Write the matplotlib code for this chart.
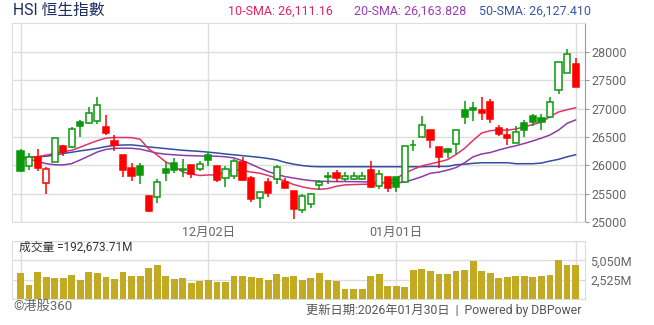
#!/usr/bin/env python3
"""
HSI candlestick chart with SMA lines and volume
"""

import matplotlib
matplotlib.use("Agg")
import matplotlib.pyplot as plt
import numpy as np

W, H = 654, 325

# daily candles, oldest first
opens = [26259, 25986, 26152, 25684, 26057, 26348, 26324, 26757, 26751, 26787,
         26668, 26437, 26176, 25956, 25992, 25458, 25434, 25939, 26045, 25925,
         26010, 25933, 26188, 25980, 25784, 25820, 26057, 25779, 25417, 25702,
         25755, 25702, 25547, 25215, 25316, 25654, 25790, 25861, 25767, 25767,
         25767, 25921, 25636, 25797, 25797, 25701, 26366, 26502, 26615, 26315,
         26280, 26380, 26967, 27002, 26984, 27108, 26650, 26538, 26397, 26750,
         26861, 26838, 26855, 27331, 27624, 27795]
highs = [26290, 26217, 26294, 25974, 26490, 26366, 26668, 26792, 27024, 27196,
         26881, 26543, 26188, 26045, 26045, 25476, 25755, 26057, 26128, 26116,
         26010, 26081, 26229, 25992, 25992, 26116, 26152, 25820, 25523, 25784,
         26010, 25773, 25547, 25500, 25512, 25737, 25880, 25921, 25880, 25880,
         25880, 26081, 25921, 25797, 25797, 26348, 26454, 26864, 26615, 26315,
         26303, 26615, 27143, 27108, 27213, 27178, 26714, 26650, 26697, 26803,
         26908, 26908, 27196, 27824, 28059, 27900]
lows = [25880, 25909, 25891, 25488, 26050, 26158, 26306, 26496, 26733, 26733,
        26532, 26247, 25802, 25731, 25678, 25180, 25340, 25731, 25861, 25802,
        25784, 25891, 25992, 25713, 25624, 25755, 25725, 25358, 25239, 25446,
        25678, 25595, 25061, 25150, 25239, 25571, 25665, 25702, 25725, 25743,
        25743, 25595, 25583, 25535, 25535, 25701, 26247, 26502, 26300, 25957,
        26122, 26192, 26726, 26779, 26797, 26744, 26515, 26356, 26397, 26497,
        26697, 26620, 26838, 27254, 27624, 27378]
closes = [25891, 26152, 25944, 25933, 26484, 26229, 26644, 26692, 26929, 27071,
          26567, 26360, 25909, 25820, 25828, 25197, 25702, 25873, 25909, 25935,
          25844, 26022, 26087, 25743, 25933, 26081, 25743, 25411, 25523, 25515,
          25962, 25607, 25221, 25452, 25488, 25702, 25814, 25773, 25808, 25810,
          25814, 25624, 25844, 25607, 25615, 26348, 26350, 26715, 26443, 26145,
          26227, 26615, 26850, 26973, 26920, 26820, 26550, 26480, 26591, 26627,
          26756, 26762, 27125, 27824, 27965, 27378]
prev_close = 25850

sma10 = [26111, 26125, 26150, 26180, 26210, 26240, 26265, 26320, 26380, 26435,
         26480, 26490, 26490, 26488, 26460, 26290, 26180, 26060, 25990, 25880,
         25845, 25820, 25830, 25832, 25880, 25921, 25910, 25880, 25861, 25820,
         25772, 25720, 25660, 25620, 25590, 25577, 25590, 25630, 25655, 25660,
         25665, 25666, 25680, 25710, 25770, 25860, 25930, 25990, 26025, 26060,
         26100, 26190, 26300, 26440, 26570, 26610, 26625, 26620, 26640, 26680,
         26720, 26760, 26860, 26940, 26980, 27014]
sma20 = [26164, 26115, 26065, 26030, 26010, 26007, 26030, 26095, 26165, 26235,
         26280, 26300, 26302, 26300, 26285, 26250, 26215, 26195, 26185, 26175,
         26170, 26165, 26162, 26160, 26150, 26130, 26080, 26020, 25950, 25890,
         25840, 25800, 25775, 25750, 25730, 25720, 25715, 25713, 25713, 25712,
         25710, 25705, 25698, 25690, 25688, 25705, 25750, 25800, 25860, 25880,
         25915, 25960, 26045, 26150, 26200, 26225, 26270, 26310, 26345, 26385,
         26430, 26480, 26535, 26620, 26740, 26800]
sma50 = [26127, 26140, 26150, 26160, 26180, 26210, 26230, 26255, 26275, 26300,
         26330, 26350, 26358, 26360, 26345, 26324, 26310, 26295, 26280, 26265,
         26255, 26245, 26232, 26217, 26200, 26185, 26170, 26155, 26140, 26120,
         26095, 26050, 26020, 25995, 25980, 25975, 25975, 25975, 25975, 25975,
         25975, 25975, 25975, 25975, 25975, 25975, 25975, 25975, 25980, 25980,
         25980, 26010, 26020, 26035, 26045, 26045, 26045, 26045, 26028, 26028,
         26028, 26040, 26075, 26105, 26150, 26186]

# volume in millions
volumes = [3367, 1813, 3497, 2849, 2720, 2720, 3108, 2461, 3497, 3367,
           2849, 2590, 3497, 2979, 2979, 4015, 4403, 2979, 2590, 2720,
           2072, 2331, 2461, 2202, 2202, 2979, 2979, 2849, 2720, 2461,
           3238, 2849, 2979, 2461, 2720, 3367, 2461, 2331, 1295, 1295,
           1295, 2979, 3238, 1684, 1684, 1554, 3756, 3885, 3626, 3238,
           3238, 3626, 3756, 4921, 3626, 3367, 2720, 2849, 2979, 2979,
           2849, 2979, 3108, 5050, 4403, 4403]

grid_idx = [0, 22, 44, 65]
grid_labels = ["", "12月02日", "01月01日", ""]
price_ticks = [25000, 25500, 26000, 26500, 27000, 27500, 28000]
vol_ticks = [0, 2525, 5050, 7575]
vol_labels = ["", "2,525M", "5,050M", ""]

GREEN = "#0a990a"
RED = "#ff0000"
GRID = "#dddddd"


def frac(x0, y0, x1, y1):
	return [x0 / W, 1 - y1 / H, (x1 - x0) / W, (y1 - y0) / H]


def main():
	plt.rcParams["font.family"] = ["Roboto", "Noto Sans CJK TC", "DejaVu Sans"]

	fig = plt.figure(figsize=(W / 100, H / 100), dpi=100)
	ax = fig.add_axes(frac(12, 23, 585, 222))
	vax = fig.add_axes(frac(12, 241, 585, 299))

	x = np.arange(len(closes))
	o = np.array(opens)
	c = np.array(closes)
	prev = np.concatenate([[prev_close], c[:-1]])
	colors = [GREEN if c[i] >= prev[i] else RED for i in x]
	filled = c < o

	# moving averages (under the candles)
	ax.plot(x, sma50, color="#2f4f9f", lw=1.1, zorder=2)
	ax.plot(x, sma20, color="#8e3aaa", lw=1.1, zorder=2)
	ax.plot(x, sma10, color="#e0336a", lw=1.1, zorder=2)

	ax.vlines(x, lows, highs, colors=colors, lw=1.1, zorder=3)
	bottoms = np.minimum(o, c)
	heights = np.maximum(np.abs(c - o), 8)
	faces = [colors[i] if filled[i] else "white" for i in x]
	ax.bar(x, heights, bottom=bottoms, width=0.72, color=faces,
		edgecolor=colors, linewidth=1.1, zorder=4)

	ax.set_xlim(-1, 66.1)
	ax.set_ylim(25000, 28510)
	ax.set_yticks(price_ticks)
	ax.set_xticks(grid_idx)
	ax.set_xticklabels(grid_labels)
	ax.grid(True, color=GRID, lw=1, zorder=0)
	ax.set_axisbelow(True)
	for side in ["left", "top", "bottom"]:
		ax.spines[side].set_color(GRID)
	ax.spines["right"].set_color("#999999")
	ax.yaxis.tick_right()
	ax.tick_params(axis="y", length=3, color="#999999", labelcolor="#666666",
		labelsize=9, pad=1.5)
	ax.tick_params(axis="x", length=0, labelcolor="#666666", labelsize=9, pad=2.5)

	# volume panel
	vax.bar(x, volumes, width=0.8, color="#c2aa22", zorder=3)
	vax.set_xlim(-1, 66.1)
	vax.set_ylim(0, 7575)
	vax.set_yticks(vol_ticks)
	vax.set_yticklabels(vol_labels)
	vax.set_xticks(grid_idx)
	vax.set_xticklabels([])
	vax.grid(True, color=GRID, lw=1, zorder=0)
	vax.set_axisbelow(True)
	for side in vax.spines:
		vax.spines[side].set_color(GRID)
	vax.yaxis.tick_right()
	vax.tick_params(axis="y", length=0, labelcolor="#666666", labelsize=9, pad=4)
	vax.tick_params(axis="x", length=0)

	# header texts
	fig.text(13 / W, 1 - 11 / H, "HSI 恒生指數", color="#1c2c5e", fontsize=11.3,
		va="center", ha="left")
	fig.text(228 / W, 1 - 11 / H, "10-SMA: 26,111.16", color="#e0245e",
		fontsize=9, va="center", ha="left")
	fig.text(354 / W, 1 - 11 / H, "20-SMA: 26,163.828", color="#9a3db5",
		fontsize=9, va="center", ha="left")
	fig.text(479 / W, 1 - 11 / H, "50-SMA: 26,127.410", color="#3a55a5",
		fontsize=9, va="center", ha="left")

	fig.text(19 / W, 1 - 247.5 / H, "成交量 =192,673.71M", color="#333333",
		fontsize=8.5, va="center", ha="left")
	fig.text(13 / W, 1 - 306 / H, "©港股360", color="#666666", fontsize=9.5,
		va="center", ha="left")
	fig.text(582 / W, 1 - 310 / H, "更新日期:2026年01月30日  |  Powered by DBPower",
		color="#555555", fontsize=8.8, va="center", ha="right")

	fig.savefig("out.png", dpi=100)


if __name__ == "__main__":
	main()
